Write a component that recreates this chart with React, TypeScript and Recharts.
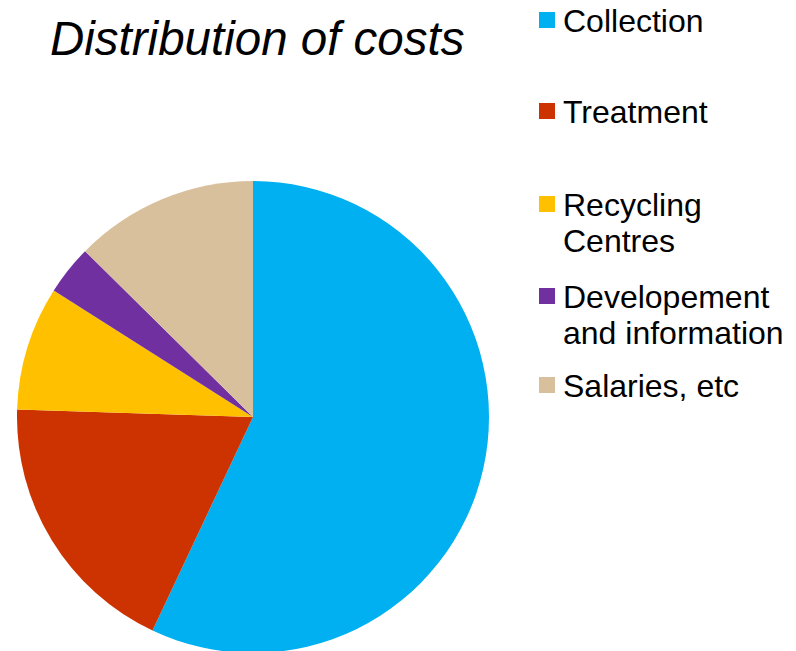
import React from "react";
import { PieChart, Pie, Cell } from "recharts";

const categories = ["Collection", "Treatment", "Recycling\nCentres", "Developement\nand information", "Salaries, etc"];
const values = [57.0, 18.5, 8.5, 3.4, 12.6];
const colors = ["#00B0F0", "#CC3300", "#FFC000", "#7030A0", "#D9C09D"];
const title = "Distribution of costs";

const data = categories.map((name, i) => ({ name, value: values[i] }));

const legendTops = [3, 94, 187, 279, 368];
const FONT = "'Liberation Sans', Arial, sans-serif";

export default function App() {
  return (
    <div style={{ position: "absolute", left: 0, top: 0, width: 796, height: 651, background: "#fff", overflow: "hidden" }}>
      <PieChart width={796} height={651} margin={{ top: 0, right: 0, bottom: 0, left: 0 }}>
        <Pie
          data={data}
          dataKey="value"
          nameKey="name"
          cx={253}
          cy={417}
          outerRadius={236}
          startAngle={90}
          endAngle={-270}
          stroke="none"
          isAnimationActive={false}
          label={false}
          labelLine={false}
        >
          {data.map((d, i) => (
            <Cell key={d.name} fill={colors[i]} />
          ))}
        </Pie>
      </PieChart>
      <div
        style={{
          position: "absolute",
          left: 50,
          top: 15,
          fontFamily: FONT,
          fontStyle: "italic",
          fontSize: 47.5,
          lineHeight: "47.5px",
          color: "#000",
          whiteSpace: "nowrap",
        }}
      >
        {title}
      </div>
      {data.map((d, i) => (
        <div key={d.name} style={{ position: "absolute", left: 539, top: legendTops[i] }}>
          <div style={{ position: "absolute", left: 0, top: 9, width: 16, height: 16, background: colors[i] }} />
          <div
            style={{
              position: "absolute",
              left: 24,
              top: 0,
              fontFamily: FONT,
              fontSize: 32,
              lineHeight: "36px",
              color: "#000",
              whiteSpace: "pre",
            }}
          >
            {d.name}
          </div>
        </div>
      ))}
    </div>
  );
}
